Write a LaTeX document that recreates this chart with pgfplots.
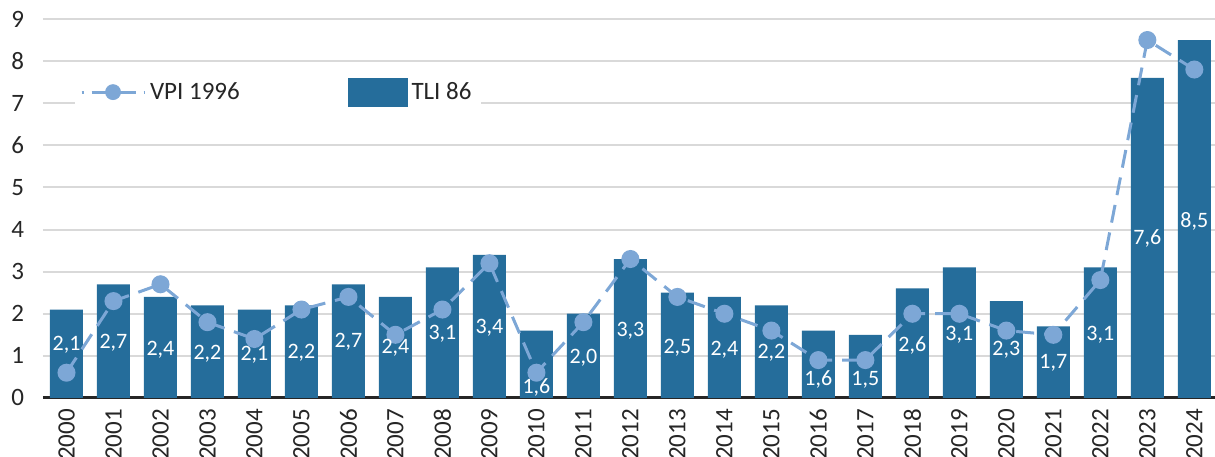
\documentclass[border=0pt]{standalone}
\usepackage{pgfplots}
\pgfplotsset{compat=1.18}
\usepackage{pgfplotstable}
\usepackage{fontspec}
\setmainfont{Carlito}
\definecolor{barcol}{RGB}{37,109,155}
\definecolor{linecol}{RGB}{125,167,214}
\definecolor{gridcol}{RGB}{217,217,217}
\definecolor{txtcol}{RGB}{38,38,38}

\pgfplotstableread{
x  bar  vpi  ly
0  2.1  0.6  1.26
1  2.7  2.3  1.30
2  2.4  2.7  1.14
3  2.2  1.8  1.06
4  2.1  1.4  1.03
5  2.2  2.1  1.08
6  2.7  2.4  1.34
7  2.4  1.5  1.20
8  3.1  2.1  1.53
9  3.4  3.2  1.67
10 1.6  0.6  0.26
11 2.0  1.8  0.96
12 3.3  3.3  1.60
13 2.5  2.4  1.20
14 2.4  2.0  1.15
15 2.2  1.6  1.08
16 1.6  0.9  0.43
17 1.5  0.9  0.43
18 2.6  2.0  1.24
19 3.1  2.0  1.50
20 2.3  1.6  1.15
21 1.7  1.5  0.83
22 3.1  2.8  1.50
23 7.6  8.5  3.78
24 8.5  7.8  4.20
}\datatable

\begin{document}
\begin{tikzpicture}
\begin{axis}[
  name=ax,
  scale only axis,
  width=586pt, height=189.5pt,
  xmin=-0.5, xmax=24.44,
  ymin=0, ymax=9,
  ytick={0,1,...,9},
  xtick={0,1,...,24},
  xticklabels={2000,2001,2002,2003,2004,2005,2006,2007,2008,2009,2010,2011,2012,2013,2014,2015,2016,2017,2018,2019,2020,2021,2022,2023,2024},
  /pgf/number format/assume math mode=true,
  axis x line*=bottom,
  axis y line*=left,
  x axis line style={line width=1.5pt, color=txtcol, -},
  y axis line style={draw=none},
  major tick length=0pt,
  ymajorgrids,
  grid style={line width=1pt, color=gridcol},
  ticklabel style={font=\fontsize{12.5}{14}\selectfont, text=txtcol},
  xticklabel style={rotate=90, anchor=east, xshift=-2pt},
  yticklabel style={anchor=east, xshift=-6pt},
  clip=false,
  legend columns=2,
  legend style={at={(0.027,0.807)}, anchor=west, draw=none, fill=white,
    inner xsep=2.5pt, inner ysep=3.5pt,
    font=\fontsize{12.5}{14}\selectfont, text=txtcol,
    /tikz/every even column/.append style={column sep=52pt}},
  legend cell align=left,
]
\addlegendimage{legend image code/.code={
    \draw[linecol, line width=1.5pt, dash pattern=on 9pt off 4pt, dash phase=8pt] (0pt,0pt) -- (31.5pt,0pt);
    \fill[linecol] (15.75pt,0pt) circle (3.75pt);}}
\addlegendentry{VPI 1996}
\addlegendimage{legend image code/.code={
    \fill[barcol] (0pt,-7pt) rectangle (29.5pt,7pt);}}
\addlegendentry{TLI 86}

\addplot[ybar, bar width=16.5pt, bar shift=0pt, fill=barcol, draw=none, forget plot]
  table[x=x, y=bar] {\datatable};

\addplot[forget plot, color=linecol, line width=1.5pt, dash pattern=on 9pt off 5pt,
  mark=*, mark size=3.75pt, mark options={solid, fill=linecol, draw=linecol}]
  table[x=x, y=vpi] {\datatable};

\addplot[forget plot, only marks, mark=none, point meta=\thisrow{bar},
  nodes near coords={\pgfmathprintnumber[fixed,fixed zerofill,precision=1,use comma]{\pgfplotspointmeta}},
  every node near coord/.append style={anchor=center, text=white, font=\fontsize{11}{13}\selectfont, inner sep=0pt}]
  table[x=x, y=ly] {\datatable};
\end{axis}
\pgfresetboundingbox
\path[use as bounding box] ([xshift=-21.5pt,yshift=-29.5pt]ax.south west) rectangle ([yshift=9.5pt]ax.north east);
\end{tikzpicture}
\end{document}
